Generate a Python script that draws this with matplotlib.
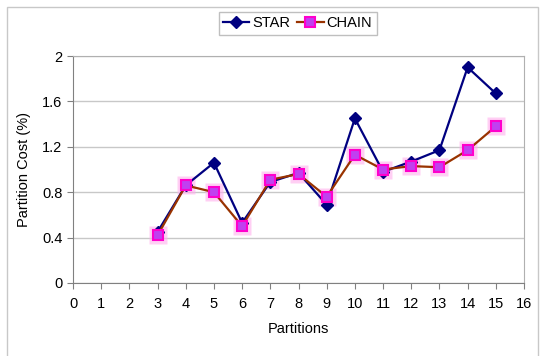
import matplotlib
matplotlib.use("Agg")
import matplotlib.pyplot as plt
from matplotlib.patches import Rectangle

partitions = [3, 4, 5, 6, 7, 8, 9, 10, 11, 12, 13, 14, 15]
star = [0.45, 0.86, 1.06, 0.53, 0.89, 0.97, 0.69, 1.45, 0.98, 1.07, 1.17, 1.90, 1.67]
chain = [0.42, 0.86, 0.80, 0.50, 0.91, 0.96, 0.76, 1.13, 1.00, 1.03, 1.02, 1.17, 1.38]
x_ticks = list(range(0, 17))
y_ticks = [0, 0.4, 0.8, 1.2, 1.6, 2.0]
y_tick_labels = ["0", "0.4", "0.8", "1.2", "1.6", "2"]

plt.rcParams['font.family'] = ['Liberation Sans', 'DejaVu Sans']

fig = plt.figure(figsize=(5.5, 3.56), dpi=100)
W, H = 550, 356
# outer chart border
fig.patches.append(Rectangle((7 / W, -0.01), (538 - 7) / W, (356 - 7) / H + 0.01, transform=fig.transFigure,
                             fill=False, edgecolor='#c8c8c8', linewidth=1.0))

ax = fig.add_axes([73 / W, (356 - 283) / H, (524 - 73) / W, (283 - 56) / H])
ax.set_xlim(0, 16)
ax.set_ylim(0, 2)
ax.set_xticks(x_ticks)
ax.set_yticks(y_ticks)
ax.set_yticklabels(y_tick_labels)
ax.yaxis.grid(True, color='#c8c8c8', linewidth=1.0)
ax.set_axisbelow(True)
for s in ['top', 'right']:
    ax.spines[s].set_color('#b0b0b0')
for s in ['left', 'bottom']:
    ax.spines[s].set_color('#808080')
ax.tick_params(axis='both', labelsize=10.5, color='#808080', length=4, direction='out')
ax.tick_params(axis='x', pad=6)

# glow for chain markers
ax.plot(partitions, chain, linestyle='none', marker='s', markersize=13,
        markerfacecolor='#ffb0ee', markeredgecolor='none', alpha=0.6, zorder=2)
ax.plot(partitions, star, color='#000080', linewidth=1.6, marker='D', markersize=6,
        markerfacecolor='#000080', markeredgecolor='#000080', label='STAR', zorder=3)
ax.plot(partitions, chain, color='#993300', linewidth=1.6, marker='s', markersize=7,
        markerfacecolor='#c040f0', markeredgecolor='#ff00cc', markeredgewidth=1.5,
        label='CHAIN', zorder=4)

ax.set_xlabel('Partitions', fontsize=10.5, labelpad=8)
ax.set_ylabel('Partition Cost (%)', fontsize=10.5, labelpad=8)

leg = ax.legend(loc='upper center', bbox_to_anchor=(297.5 / W, (356 - 12) / H), bbox_transform=fig.transFigure,
                ncol=2, frameon=True, fancybox=False, fontsize=10.5, handlelength=1.8,
                columnspacing=0.5, handletextpad=0.2, borderpad=0.3, borderaxespad=0,
                edgecolor='#b0b0b0')
leg.get_frame().set_linewidth(1.0)

fig.savefig('out.png', dpi=100)
